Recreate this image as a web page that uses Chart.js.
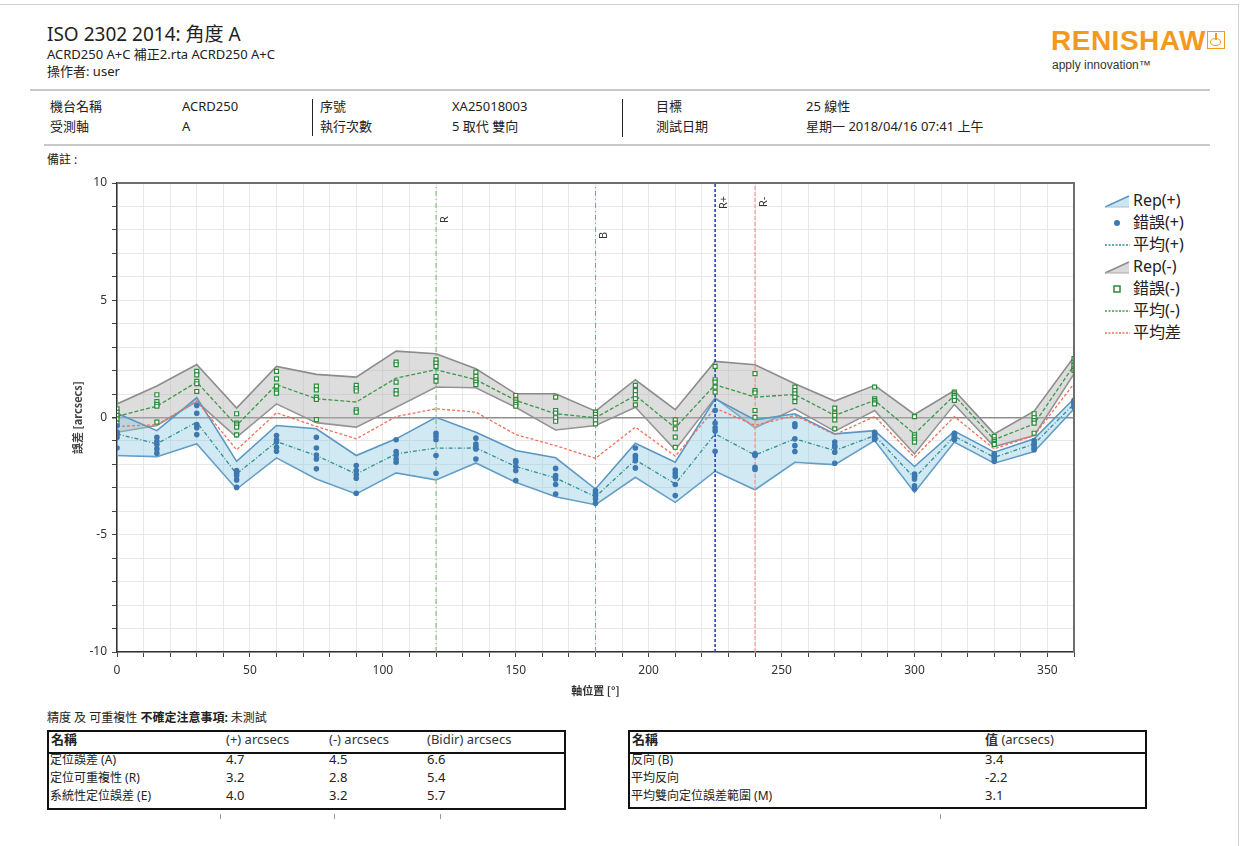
<!DOCTYPE html>
<html><head><meta charset="utf-8">
<script src="https://cdn.jsdelivr.net/npm/chart.js@4.4.0/dist/chart.umd.min.js"></script>
<style>
body{margin:0;background:#fff;width:1248px;height:846px;position:relative;overflow:hidden;font-family:"Noto Sans","Noto Sans CJK TC",sans-serif;color:#222}
.t{position:absolute;white-space:nowrap;line-height:1.2}
.s13{font-size:13px}
.s12{font-size:12px}
.hl{position:absolute;background:#c8c8c8}
.vl{position:absolute;background:#222;width:1px}
.tbl{position:absolute;border:2px solid #111;box-sizing:border-box}
.tbl .hd{position:absolute;left:0;right:0;top:0;height:20px;border-bottom:2px solid #111}
.leg{position:absolute;left:1104px;font-size:16px;line-height:1.2;white-space:nowrap}
.leg svg{position:absolute;left:0;top:50%;transform:translateY(-50%)}
.leg span{position:absolute;left:29px;top:0;transform:translateY(-50%)}
.tick{position:absolute;width:1px;height:5px;background:#999}
</style></head><body>
<div style="position:absolute;left:0;top:4px;width:1238px;height:1px;background:#d0d0d0"></div>
<div style="position:absolute;left:1238px;top:4px;width:1px;height:842px;background:#d0d0d0"></div>

<div class="t" style="left:47px;top:23px;font-size:19px">ISO 2302 2014: 角度 A</div>
<div class="t s13" style="left:47px;top:47px">ACRD250 A+C 補正2.rta ACRD250 A+C</div>
<div class="t s13" style="left:47px;top:64px">操作者: user</div>
<div class="hl" style="left:30px;top:89px;width:1180px;height:2px"></div>

<div class="t" style="left:1051px;top:24px;font-family:'Liberation Sans',sans-serif;font-weight:bold;font-size:28px;color:#f39a1e;letter-spacing:0.5px">RENISHAW</div>
<div style="position:absolute;left:1207px;top:31px;width:18px;height:18px;border:1.5px solid #f39a1e;box-sizing:border-box">
  <div style="position:absolute;left:2px;top:6px;width:11px;height:8px;border:1.5px solid #f39a1e;border-radius:50%;box-sizing:border-box"></div>
  <div style="position:absolute;left:7px;top:1px;width:1.5px;height:7px;background:#f39a1e"></div>
</div>
<div class="t" style="left:1052px;top:58px;font-size:12px;color:#333;font-family:'Liberation Sans',sans-serif">apply innovation™</div>

<div class="t s13" style="left:50px;top:99px">機台名稱</div>
<div class="t s13" style="left:182px;top:99px">ACRD250</div>
<div class="t s13" style="left:320px;top:99px">序號</div>
<div class="t s13" style="left:452px;top:99px">XA25018003</div>
<div class="t s13" style="left:656px;top:99px">目標</div>
<div class="t s13" style="left:806px;top:99px">25 線性</div>
<div class="t s13" style="left:50px;top:119px">受測軸</div>
<div class="t s13" style="left:182px;top:119px">A</div>
<div class="t s13" style="left:320px;top:119px">執行次數</div>
<div class="t s13" style="left:452px;top:119px">5 取代 雙向</div>
<div class="t s13" style="left:656px;top:119px">測試日期</div>
<div class="t s13" style="left:806px;top:119px">星期一 2018/04/16 07:41 上午</div>
<div class="vl" style="left:312px;top:99px;height:37px"></div>
<div class="vl" style="left:622px;top:99px;height:38px"></div>
<div class="hl" style="left:44px;top:144px;width:1166px;height:2px"></div>
<div class="t s12" style="left:47px;top:153px">備註 :</div>

<canvas id="c" width="1040" height="535" style="position:absolute;left:40px;top:170px;width:1040px;height:535px"></canvas>

<div class="leg" style="top:201px"><svg width="26" height="14"><polygon points="1,13 25,2 25,13" fill="#cfe5ee"/><line x1="1" y1="13" x2="25" y2="2" stroke="#5a96c4" stroke-width="1.5"/><line x1="1" y1="13" x2="25" y2="13" stroke="#9cc6dc" stroke-width="1"/></svg><span>Rep(+)</span></div>
<div class="leg" style="top:223px"><svg width="26" height="14"><circle cx="13" cy="7" r="3" fill="#3e78b0"/></svg><span>錯誤(+)</span></div>
<div class="leg" style="top:245px"><svg width="26" height="14"><line x1="1" y1="7" x2="26" y2="7" stroke="#2f8f95" stroke-width="1.3" stroke-dasharray="2,1.5"/></svg><span>平均(+)</span></div>
<div class="leg" style="top:267px"><svg width="26" height="14"><polygon points="1,13 25,2 25,13" fill="#dadada"/><line x1="1" y1="13" x2="25" y2="2" stroke="#8c8c8c" stroke-width="1.5"/><line x1="1" y1="13" x2="25" y2="13" stroke="#aaa" stroke-width="1"/></svg><span>Rep(-)</span></div>
<div class="leg" style="top:289px"><svg width="26" height="14"><rect x="10" y="4" width="6" height="6" fill="#fff" stroke="#2d8a3a" stroke-width="1.5"/></svg><span>錯誤(-)</span></div>
<div class="leg" style="top:311px"><svg width="26" height="14"><line x1="1" y1="7" x2="26" y2="7" stroke="#3a9a48" stroke-width="1.3" stroke-dasharray="2,1.5"/></svg><span>平均(-)</span></div>
<div class="leg" style="top:333px"><svg width="26" height="14"><line x1="1" y1="7" x2="26" y2="7" stroke="#f2705a" stroke-width="1.3" stroke-dasharray="2,1.5"/></svg><span>平均差</span></div>

<div class="t s12" style="left:47px;top:711px">精度 及 可重複性 <b>不確定注意事項:</b> 未測試</div>
<div class="tbl" style="left:47px;top:730px;width:519px;height:80px"><div class="hd"></div></div>
<div class="t s13" style="left:51px;top:732px;font-weight:bold">名稱</div>
<div class="t s13" style="left:226px;top:732px;color:#333">(+) arcsecs</div>
<div class="t s13" style="left:329px;top:732px;color:#333">(-) arcsecs</div>
<div class="t s13" style="left:427px;top:732px;color:#333">(Bidir) arcsecs</div>
<div class="t s12" style="left:50px;top:753px">定位誤差 (A)</div>
<div class="t s13" style="left:226px;top:752px">4.7</div>
<div class="t s13" style="left:329px;top:752px">4.5</div>
<div class="t s13" style="left:427px;top:752px">6.6</div>
<div class="t s12" style="left:50px;top:771px">定位可重複性 (R)</div>
<div class="t s13" style="left:226px;top:770px">3.2</div>
<div class="t s13" style="left:329px;top:770px">2.8</div>
<div class="t s13" style="left:427px;top:770px">5.4</div>
<div class="t s12" style="left:50px;top:789px">系統性定位誤差 (E)</div>
<div class="t s13" style="left:226px;top:788px">4.0</div>
<div class="t s13" style="left:329px;top:788px">3.2</div>
<div class="t s13" style="left:427px;top:788px">5.7</div>
<div class="tick" style="left:220px;top:814px"></div>
<div class="tick" style="left:334px;top:814px"></div>
<div class="tick" style="left:440px;top:814px"></div>

<div class="tbl" style="left:628px;top:730px;width:519px;height:79px"><div class="hd"></div></div>
<div class="t s13" style="left:632px;top:732px;font-weight:bold">名稱</div>
<div class="t s13" style="left:985px;top:732px;color:#333"><b>值</b> (arcsecs)</div>
<div class="t s12" style="left:631px;top:753px">反向 (B)</div>
<div class="t s13" style="left:985px;top:752px">3.4</div>
<div class="t s12" style="left:631px;top:771px">平均反向</div>
<div class="t s13" style="left:985px;top:770px">-2.2</div>
<div class="t s12" style="left:631px;top:789px">平均雙向定位誤差範圍 (M)</div>
<div class="t s13" style="left:985px;top:788px">3.1</div>
<div class="tick" style="left:940px;top:814px"></div>

<script>
const positions = [0,15,30,45,60,75,90,105,120,135,150,165,180,195,210,225,240,255,270,285,300,315,330,345,360];

const meanPlus  = [-0.70,-1.12,-0.20,-2.41,-1.03,-1.62,-2.41,-1.55,-1.31,-1.30,-2.09,-2.58,-3.38,-1.81,-2.83,-0.70,-1.60,-0.91,-1.41,-0.77,-2.58,-0.80,-1.70,-1.13,0.58];
const meanMinus = [0.05,0.48,1.51,-0.34,1.40,0.80,0.66,1.68,2.04,1.61,0.73,0.16,-0.01,0.94,-0.44,1.40,0.87,0.98,0.09,0.73,-0.70,0.94,-0.95,-0.27,2.22];
const meanBidir = [-0.38,-0.31,0.70,-1.38,0.20,-0.38,-0.91,0.04,0.37,0.23,-0.73,-1.20,-1.74,-0.41,-1.65,0.40,-0.34,0.09,-0.73,0.04,-1.70,0.04,-1.34,-0.77,1.44];

const repPlusUpper  = [0.18,-0.56,0.84,-1.87,-0.34,-0.48,-1.62,-0.91,0.01,-0.63,-1.41,-1.72,-3.05,-1.10,-1.91,0.80,-0.10,0.16,-0.70,-0.56,-2.09,-0.58,-1.48,-0.91,0.80];
const repPlusLower  = [-1.62,-1.67,-1.12,-3.05,-1.72,-2.62,-3.26,-2.36,-2.66,-1.94,-2.76,-3.38,-3.72,-2.55,-3.62,-2.29,-3.08,-1.91,-2.01,-0.98,-3.19,-1.05,-1.95,-1.45,0.37];
const repMinusUpper = [0.58,1.34,2.26,0.40,2.18,1.84,1.72,2.83,2.72,2.08,1.01,1.01,0.27,1.61,0.33,2.39,2.25,1.44,0.70,1.37,0.13,1.15,-0.70,0.27,2.58];
const repMinusLower = [-0.63,-0.34,0.68,-0.84,0.58,-0.22,-0.41,0.44,1.30,1.27,0.44,-0.53,-0.34,0.44,-1.38,0.84,-0.44,0.37,-0.58,0.30,-1.55,0.56,-1.24,-0.77,1.87];

const errPlus = [
  [-0.35,-0.62,-0.72,-0.85,-1.30],
  [-0.84,-1.01,-1.15,-1.34,-1.52],
  [0.51,0.18,-0.30,-0.44,-0.73],
  [-2.26,-2.38,-2.48,-2.66,-2.98],
  [-0.77,-0.95,-1.05,-1.27,-1.44],
  [-0.84,-1.30,-1.60,-1.77,-2.19],
  [-2.05,-2.26,-2.44,-2.59,-3.23],
  [-0.95,-1.45,-1.60,-1.77,-1.91],
  [-0.67,-0.80,-0.95,-1.62,-2.38],
  [-0.88,-1.13,-1.24,-1.34,-1.77],
  [-1.84,-1.91,-2.09,-2.26,-2.69],
  [-2.17,-2.48,-2.62,-2.86,-3.26],
  [-3.12,-3.23,-3.33,-3.48,-3.66],
  [-1.30,-1.62,-1.72,-1.84,-2.15],
  [-2.24,-2.38,-2.52,-2.86,-3.33],
  [0.30,-0.24,-0.44,-0.58,-1.44],
  [-1.55,-1.58,-1.62,-2.12,-2.22],
  [-0.27,-0.38,-0.91,-1.20,-1.45],
  [-1.05,-1.20,-1.27,-1.48,-1.95],
  [-0.63,-0.73,-0.80,-0.87,-0.94],
  [-2.41,-2.52,-2.62,-2.91,-3.05],
  [-0.67,-0.73,-0.80,-0.87,-0.95],
  [-1.55,-1.62,-1.70,-1.77,-1.87],
  [-0.98,-1.10,-1.20,-1.30,-1.37],
  [0.73,0.66,0.58,0.51,0.44]
];
const errMinus = [
  [0.37,0.23,0.09,-0.06,-0.24],
  [0.97,0.68,0.56,0.48,-0.20],
  [1.97,1.82,1.54,1.44,1.11],
  [0.16,-0.24,-0.31,-0.41,-0.74],
  [1.97,1.65,1.34,1.12,1.04],
  [1.34,1.18,0.87,0.77,-0.09],
  [1.37,1.23,1.13,0.33,0.23],
  [2.36,2.25,1.51,1.15,1.01],
  [2.46,2.32,2.18,1.75,1.55],
  [1.94,1.75,1.61,1.51,1.40],
  [0.94,0.75,0.66,0.56,0.48],
  [0.87,0.30,0.19,-0.01,-0.16],
  [0.23,0.13,0.01,-0.10,-0.27],
  [1.37,1.15,0.97,0.80,0.54],
  [-0.10,-0.24,-0.48,-0.84,-1.27],
  [2.18,1.61,1.51,1.30,1.08],
  [1.87,1.15,1.05,0.30,0.01],
  [1.30,1.15,1.01,0.87,0.68],
  [0.40,0.19,0.09,-0.10,-0.48],
  [1.30,0.80,0.73,0.66,0.58],
  [0.04,-0.74,-0.84,-0.95,-1.05],
  [1.08,1.01,0.94,0.87,0.73],
  [-0.81,-0.95,-1.03,-1.10,-1.15],
  [0.16,-0.01,-0.13,-0.24,-0.67],
  [2.51,2.36,2.22,2.08,2.01]
];

const markerPositions = [120,180,225,240];
const markerLabels = ['R','B','R+','R-'];
const markerColors = ['#7cbf74','#5fb1ae','#2a3fc8','#f5917e'];
const markerDashes = [[5,3,1,3],[5,3,1,3],[3,2],[4,2]];

const xTickLabels = [0,50,100,150,200,250,300,350];
const yTickLabels = [-10,-5,0,5,10];

const xy = ys => positions.map((p,i)=>({x:p,y:ys[i]}));
const pts = groups => groups.flatMap((g,i)=>g.map(v=>({x:positions[i],y:v})));
const base = {pointRadius:0,tension:0,fill:false};

const datasets = [
  {...base,data:xy(repMinusUpper),borderColor:'#8c8c8c',borderWidth:1.6,backgroundColor:'rgba(180,180,180,0.45)',fill:'+1',order:20},
  {...base,data:xy(repMinusLower),borderColor:'#8c8c8c',borderWidth:1.6,order:20},
  {...base,data:xy(repPlusUpper),borderColor:'#5a96c4',borderWidth:1.6,backgroundColor:'rgba(135,196,220,0.38)',fill:'+1',order:19},
  {...base,data:xy(repPlusLower),borderColor:'#5a96c4',borderWidth:1.6,order:19},
  {...base,data:xy(meanMinus),borderColor:'#3a9a48',borderWidth:1.3,borderDash:[4,2],order:10},
  {...base,data:xy(meanPlus),borderColor:'#2f8f95',borderWidth:1.3,borderDash:[4,2,1,2],order:10},
  {...base,data:xy(meanBidir),borderColor:'#f2705a',borderWidth:1.3,borderDash:[3,2],order:10},
  {data:pts(errMinus),showLine:false,pointStyle:'rect',pointRadius:2.8,pointBorderWidth:1.2,pointBorderColor:'#2d8a3a',pointBackgroundColor:'#ffffff',order:2},
  {data:pts(errPlus),showLine:false,pointStyle:'circle',pointRadius:2.8,pointBorderWidth:0,pointBorderColor:'#3e78b0',pointBackgroundColor:'#3e78b0',order:1}
];
markerPositions.forEach((m,i)=>{
  datasets.push({...base,data:[{x:m,y:-10},{x:m,y:10}],borderColor:markerColors[i],borderWidth:i===2?1.6:1.1,borderDash:markerDashes[i],order:15});
});

const labelBottoms = [40,56,26,24];
const framePlugin = {
  id:'frame',
  afterDatasetsDraw(chart){
    const {ctx, chartArea:a, scales:{x}} = chart;
    ctx.save();
    ctx.font = '11px "Noto Sans", sans-serif';
    ctx.fillStyle = '#333';
    ctx.textBaseline = 'top';
    ctx.textAlign = 'left';
    markerPositions.forEach((m,i)=>{
      const px = x.getPixelForValue(m);
      ctx.save();
      ctx.translate(px+3, a.top + labelBottoms[i]);
      ctx.rotate(-Math.PI/2);
      ctx.fillText(markerLabels[i],0,0);
      ctx.restore();
    });
    ctx.strokeStyle = '#6e6e6e';
    ctx.lineWidth = 2;
    ctx.beginPath();
    ctx.moveTo(a.left, a.top); ctx.lineTo(a.right, a.top); ctx.lineTo(a.right, a.bottom);
    ctx.stroke();
    ctx.restore();
  }
};

new Chart(document.getElementById('c'), {
  type:'line',
  data:{datasets},
  options:{
    responsive:false,
    animation:false,
    devicePixelRatio:1,
    layout:{padding:{top:13,right:5,left:0,bottom:0},autoPadding:false},
    plugins:{legend:{display:false},tooltip:{enabled:false}},
    scales:{
      x:{
        type:'linear',min:0,max:360,
        afterFit:s=>{s.height=53;},
        ticks:{stepSize:10,autoSkip:false,maxRotation:0,padding:6,color:'#333',font:{size:12,family:'"Noto Sans", sans-serif'},
          callback:v=>xTickLabels.includes(v)?String(v):''},
        grid:{color:'#e8e8e8',tickColor:'#444',tickLength:5},
        border:{color:'#333',width:1.5},
        title:{display:true,text:'軸位置 [°]',color:'#333',font:{size:11,weight:'bold',family:'"Noto Sans CJK TC", sans-serif'},padding:{top:0,bottom:8}}
      },
      y:{
        type:'linear',min:-10,max:10,
        afterFit:s=>{s.width=77;},
        ticks:{stepSize:1,autoSkip:false,padding:5,color:'#333',font:{size:12,family:'"Noto Sans", sans-serif'},
          callback:v=>yTickLabels.includes(v)?String(v):''},
        grid:{color:c=>c.tick&&c.tick.value===0?'#8f8f8f':'#e8e8e8',lineWidth:c=>c.tick&&c.tick.value===0?1.5:1,tickColor:'#444',tickLength:5},
        border:{color:'#333',width:1.5},
        title:{display:true,text:'誤差 [arcsecs]',color:'#444',font:{size:11,weight:'bold',family:'"Noto Sans CJK TC", sans-serif'},padding:{top:31,bottom:0}}
      }
    }
  },
  plugins:[framePlugin]
});
</script>
</body></html>
